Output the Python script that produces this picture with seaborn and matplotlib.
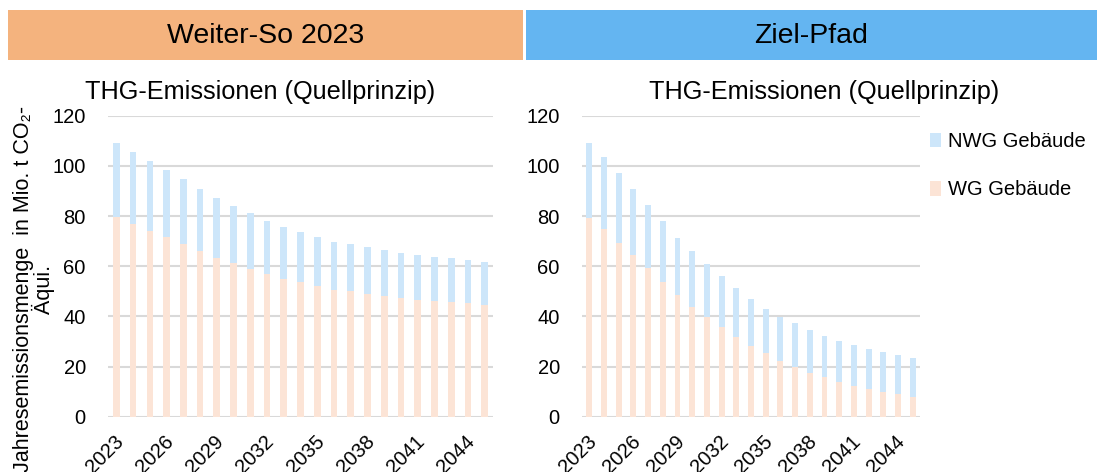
import matplotlib
matplotlib.use("Agg")
import matplotlib.pyplot as plt
import matplotlib.transforms as mtransforms
from matplotlib.patches import Rectangle, Patch
import seaborn as sns
import pandas as pd

sns.set_theme(style="white")
plt.rcParams["font.family"] = ["Liberation Sans", "DejaVu Sans"]
plt.rcParams["text.color"] = "black"

# Data
years = [str(y) for y in range(2023, 2046)]
tick_years = ["2023", "2026", "2029", "2032", "2035", "2038", "2041", "2044"]

weiter_wg = [79.5, 76.7, 73.9, 71.5, 68.8, 65.9, 63.4, 61.1, 58.9, 56.7, 54.9, 53.6,
             52.0, 50.6, 50.0, 48.9, 48.1, 47.2, 46.6, 46.1, 45.7, 45.2, 44.5]
weiter_nwg = [29.7, 28.8, 28.0, 26.8, 25.8, 25.0, 23.9, 22.9, 22.2, 21.4, 20.8, 20.0,
              19.6, 19.2, 18.8, 18.6, 18.2, 17.9, 17.9, 17.6, 17.4, 17.3, 17.2]

ziel_wg = [79.3, 74.9, 69.4, 64.3, 59.2, 53.6, 48.5, 43.7, 39.6, 35.6, 31.8, 28.1,
           25.2, 22.3, 19.7, 17.4, 15.7, 13.8, 12.3, 11.1, 9.9, 9.1, 7.9]
ziel_nwg = [29.8, 28.8, 27.6, 26.5, 25.2, 24.3, 22.7, 22.2, 21.3, 20.4, 19.4, 19.0,
            17.9, 17.4, 17.5, 17.2, 16.4, 16.3, 16.2, 15.9, 15.9, 15.5, 15.6]

scenarios = ["Weiter-So 2023", "Ziel-Pfad"]
series_labels = ["NWG Gebäude", "WG Gebäude"]
title = "THG-Emissionen (Quellprinzip)"
ylabel = "Jahresemissionsmenge  in Mio. t CO₂-\nÄqui."

NWG_COLOR = "#CDE6FA"
WG_COLOR = "#FCE4D6"
GRID_COLOR = "#D9D9D9"
HEAD_ORANGE = "#F4B37E"
HEAD_BLUE = "#64B5F1"

W, H = 1097, 472
fig = plt.figure(figsize=(W / 100, H / 100), dpi=100)


def fx(px):
    return px / W


def fy(py):
    return 1 - py / H


# Scenario header bands
for (x0, x1), color, label in [((8, 523), HEAD_ORANGE, scenarios[0]),
                               ((526, 1097), HEAD_BLUE, scenarios[1])]:
    fig.patches.append(Rectangle((fx(x0), fy(60)), fx(x1 - x0), 50 / H,
                                 transform=fig.transFigure, facecolor=color,
                                 edgecolor="none", zorder=0))
    fig.text(fx((x0 + x1) / 2), fy(36), label, ha="center", va="center",
             fontsize=20.5, color="black")

panels = [
    (weiter_wg, weiter_nwg, (108, 493), 260),
    (ziel_wg, ziel_nwg, (582, 920), 824),
]

# shift rotated year labels so their ends sit under the bars
label_shift = mtransforms.ScaledTranslation(4 / 100, 0, fig.dpi_scale_trans)

for wg, nwg, (x0, x1), title_x in panels:
    ax = fig.add_axes([fx(x0), fy(416.7), fx(x1 - x0), 301 / H])
    df = pd.DataFrame({"Jahr": years, "WG": wg, "NWG": nwg})
    df["Gesamt"] = df["WG"] + df["NWG"]
    sns.barplot(data=df, x="Jahr", y="Gesamt", color=NWG_COLOR, saturation=1,
                width=0.4, linewidth=0, ax=ax, zorder=2)
    sns.barplot(data=df, x="Jahr", y="WG", color=WG_COLOR, saturation=1,
                width=0.4, linewidth=0, ax=ax, zorder=3)
    ax.set_ylim(0, 120)
    ax.set_yticks(range(0, 121, 20))
    ax.set_xlim(-0.5, len(years) - 0.5)
    ax.set_xticks([years.index(t) for t in tick_years])
    ax.set_xticklabels(tick_years, rotation=45, ha="right", va="center",
                       rotation_mode="anchor")
    ax.tick_params(axis="both", length=0, labelsize=14.5, colors="black")
    ax.tick_params(axis="x", pad=16)
    ax.tick_params(axis="y", pad=16)
    for lbl in ax.get_xticklabels():
        lbl.set_transform(lbl.get_transform() + label_shift)
    ax.yaxis.grid(True, color=GRID_COLOR, linewidth=1.5)
    ax.set_axisbelow(True)
    for s in ax.spines.values():
        s.set_visible(False)
    ax.set_xlabel("")
    ax.set_ylabel("")
    fig.text(fx(title_x), fy(92), title, ha="center", va="center",
             fontsize=18.2, color="black")

fig.text(fx(34), fy(289), ylabel, rotation=90, ha="center", va="center",
         multialignment="center", fontsize=15.5, color="black", linespacing=0.85)

handles = [Patch(facecolor=NWG_COLOR, edgecolor="none"),
           Patch(facecolor=WG_COLOR, edgecolor="none")]
fig.legend(handles, series_labels, loc="upper left",
           bbox_to_anchor=(fx(922), fy(124)), frameon=False, fontsize=14.5,
           handlelength=0.55, handleheight=0.75, handletextpad=0.35,
           labelspacing=1.45, borderaxespad=0, labelcolor="black")

fig.savefig("out.png", dpi=100, facecolor="white")
